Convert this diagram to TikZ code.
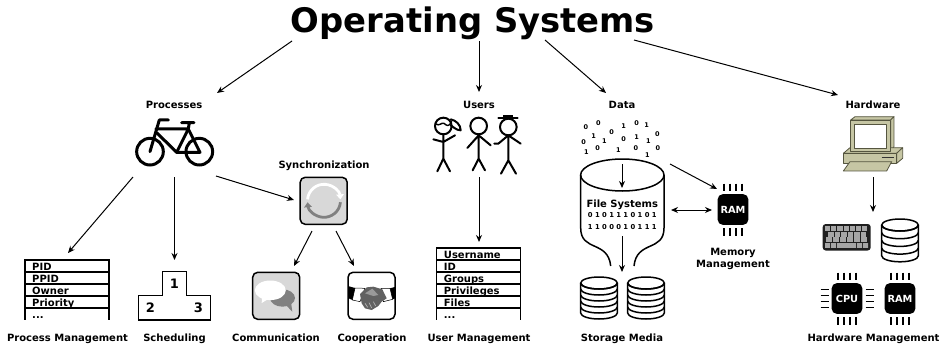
\documentclass[tikz,border=0pt]{standalone}
\usepackage{fontspec}
\setmainfont{DejaVu Sans}
\usetikzlibrary{arrows.meta}
\definecolor{pcfill}{HTML}{C6C6A4}
\definecolor{pcline}{HTML}{55553F}
\definecolor{boxgrey}{HTML}{D8D8D8}
\definecolor{midgrey}{HTML}{808080}
\tikzset{
  x=1pt,y=-1pt,
  lab/.style={font=\fontsize{10}{12}\selectfont\bfseries,inner sep=0pt,align=center,anchor=base},
  conn/.style={line width=1pt,-{Stealth[length=7pt,width=6pt]}},
  connb/.style={line width=1pt,{Stealth[length=7pt,width=6pt]}-{Stealth[length=7pt,width=6pt]}},
  icon/.style={line width=2pt,line cap=round,line join=round},
  tabline/.style={line width=1.5pt},
  tabtext/.style={font=\fontsize{10}{12}\selectfont\bfseries,inner sep=0pt,anchor=base west},
  iconbox/.style={draw,line width=1.5pt,rounded corners=5pt,minimum size=47pt,inner sep=0pt},
  chipbody/.style={fill=black,rounded corners=5pt,minimum size=30.6pt,inner sep=0pt,text=white,font=\fontsize{9.8}{12}\selectfont\bfseries},
  bit/.style={font=\fontsize{6.5}{7}\selectfont\bfseries,inner sep=0pt},
  bitrow/.style={font=\fontsize{6.8}{8}\selectfont\bfseries,inner sep=0pt},
  podnum/.style={font=\fontsize{13}{14}\selectfont\bfseries,inner sep=0pt},
}
\newcommand{\tdots}{.{}.{}.}
\newcommand{\tablepanel}[4]{% x left, x right, y top, rows
  \foreach \rowname [count=\ri from 0] in {#4} {
    \draw[tabline] (#1,#3+12*\ri) -- (#2,#3+12*\ri);
    \node[tabtext] at (#1+7,#3+10+12*\ri) {\rowname};
  }
  \draw[tabline] (#1,#3-.7) -- (#1,320) (#2,#3-.7) -- (#2,320);
}
\newcommand{\diskicon}[6]{% cx, cy, rx, ry, step, count
  \begin{scope}[shift={(#1,#2)}]
    \draw[line width=1.5pt,fill=white] (-#3,0) -- (-#3,#5*#6) arc (180:0:#3 and #4) -- (#3,0);
    \foreach \k in {1,...,#6} {
      \draw[line width=1.5pt] (-#3,#5*\k-#5+0) arc (180:0:#3 and #4);
    }
    \draw[line width=1.5pt] (0,0) ellipse (#3 and #4);
  \end{scope}
}
\newcommand{\chipicon}[4]{% name,x,y,text
  \node[chipbody] (#1) at (#2,#3) {#4};
  \begin{scope}[shift={(#2,#3)}]
    \foreach \p in {-9,-3,3,9} {
      \draw[line width=1.2pt] (\p,-26) -- (\p,-18.5);
      \draw[line width=1.2pt] (\p,18.5) -- (\p,26);
    }
  \end{scope}
}
\begin{document}
\begin{tikzpicture}
\useasboundingbox (0,0) rectangle (940,343);

% ---- title and labels
\node[inner sep=0pt,font=\fontsize{33.8}{36}\selectfont\bfseries] (title) at (473,23) {Operating Systems};
\node[lab] (lProc) at (174,108.7) {Processes};
\node[lab] (lUsers) at (479,108.7) {Users};
\node[lab] (lData) at (622,108.7) {Data};
\node[lab] (lHw) at (873,108.7) {Hardware};
\node[lab] (lSync) at (324,168.5) {Synchronization};
\node[lab] (lPM) at (67.5,341.7) {Process Management};
\node[lab] (lSched) at (174.5,341.7) {Scheduling};
\node[lab] (lComm) at (276,341.7) {Communication};
\node[lab] (lCoop) at (372,341.7) {Cooperation};
\node[lab] (lUM) at (479,341.7) {User Management};
\node[lab] (lSM) at (622,341.7) {Storage Media};
\node[lab,anchor=center] (lMM) at (733,259) {Memory\\[.3pt]Management};
\node[lab] (lHM) at (873.5,341.7) {Hardware Management};

% ---- bicycle
\begin{scope}[shift={(0,90)},x=.3333pt,y=-.3333pt]
  \draw[line width=3pt] (450,185) circle (40);
  \draw[line width=3pt] (598,185) circle (40);
  \draw[icon,line width=3pt] (505,90) -- (478,90) -- (450,185);
  \draw[icon,line width=3pt] (468,117) -- (565,117) -- (530,187) -- (470,128);
  \draw[icon,line width=3pt] (565,117) -- (600,187) -- (530,187);
  \draw[icon,line width=3pt] (545,98) -- (582,98) (568,98) -- (565,117);
\end{scope}

% ---- tables
\tablepanel{25}{109}{260}{PID,PPID,Owner,Priority,\tdots}
\tablepanel{436.7}{520.7}{248}{Username,ID,Groups,Privileges,Files,\tdots}

% ---- podium
\draw[line width=1.5pt] (138.3,320) -- (138.3,295.7) -- (162.7,295.7) -- (162.7,271.7) -- (186.7,271.7) -- (186.7,295.7) -- (210.7,295.7) -- (210.7,320) -- cycle;
\node[podnum] (p1) at (174.5,284) {1};
\node[podnum] (p2) at (150.5,308) {2};
\node[podnum] (p3) at (198.5,308) {3};

% ---- sync box
\node[iconbox,fill=boxgrey] (sync) at (323.7,200.8) {};
\draw[white,line width=2.8pt,-{Triangle[length=5pt,width=7.5pt]}] (324,200.8) ++(185:16.5) arc (185:355:16.5);
\draw[midgrey,line width=2.8pt,-{Triangle[length=5pt,width=7.5pt]}] (324,200.8) ++(5:16.5) arc (5:175:16.5);

% ---- communication box
\node[iconbox,fill=boxgrey] (comm) at (276.2,295.8) {};
\fill[midgrey] (282.5,298) ellipse (12.5 and 8.7);
\fill[midgrey] (284,303) -- (292.3,311.7) -- (291,302) -- cycle;
\fill[white] (270.3,290.3) ellipse (15.5 and 9.8);
\fill[white] (262,296) -- (261.7,303) -- (270,298) -- cycle;

% ---- cooperation box
\node[iconbox,fill=white] (coop) at (371.5,295.8) {};
\begin{scope}[shift={(345,270)},x=.3333pt,y=-.3333pt]
  \filldraw[line width=.5pt,fill=white] (30,54) -- (60,55) -- (45,95) -- (22,90) -- cycle;
  \filldraw[line width=.5pt,fill=white] (135,55) -- (108,55) -- (115,95) -- (143,88) -- cycle;
  \fill[black] (9,48) -- (30,54) -- (22,90) -- (9,84) -- cycle;
  \fill[black] (153,50) -- (135,55) -- (143,88) -- (153,84) -- cycle;
  \fill[black!62] (45,72) -- (65,52) -- (85,50) -- (112,58) -- (125,85) -- (110,95) -- (100,108) -- (80,120) -- (60,115) -- (50,100) -- cycle;
  \fill[black!40] (60,70) -- (82,56) -- (100,75) -- (85,78) -- cycle;
  \draw[black!30,line width=.7pt] (60,100) -- (68,112) (72,98) -- (80,114) (85,95) -- (92,108);
\end{scope}

% ---- people
\begin{scope}[shift={(430,112)},x=.3333pt,y=-.3333pt,icon]
  \draw (40,42) circle (25);
  \draw[line width=1.4pt] (16,35) .. controls (28,45) and (35,30) .. (42,34) .. controls (50,40) and (55,48) .. (65,28);
  \draw (62,22) .. controls (78,25) and (92,38) .. (92,55) .. controls (80,55) and (70,45) .. (62,40);
  \draw (40,67) -- (40,140) (10,82) -- (40,90) -- (75,70) (22,178) -- (40,140) -- (60,178);
  \draw (146,42) circle (25);
  \draw (146,67) -- (146,140) (112,108) -- (146,70) -- (182,100) (128,175) -- (146,140) -- (165,175);
  \draw (235,45) circle (25);
  \draw (205,19) -- (263,19);
  \fill (218,8) rectangle (250,18);
  \draw (235,70) -- (235,145) (193,95) -- (205,95) -- (235,70) -- (272,95) (213,185) -- (235,145) -- (258,185);
\end{scope}

% ---- random bits
\begin{scope}[shift={(576,115)},x=.3333pt,y=-.3333pt]
  \foreach \bx/\by/\bv in {30/35/0,67/23/0,143/32/1,182/25/0,212/30/1,107/52/0,244/56/0,53/63/1,23/80/0,85/77/1,143/73/0,182/67/1,217/77/1,31/112/1,65/100/0,127/106/1,180/100/0,214/121/1,246/100/0}
    \node[bit] at (\bx,\by) {\bv};
\end{scope}

% ---- funnel
\draw[line width=1.5pt] (580.7,175) -- (580.7,228) .. controls (580.7,252) and (608,240) .. (610.7,266);
\draw[line width=1.5pt] (664,175) -- (664,228) .. controls (664,252) and (636.7,240) .. (634,266);
\draw[line width=1.5pt] (622.3,175) ellipse (41.7 and 16);
\node[lab] (fs) at (622.3,207.3) {File Systems};
\node[bitrow] (fs1) at (622.3,215.3) {0 1 0 1 1 1 0 1 0 1};
\node[bitrow] (fs2) at (622.3,227.5) {1 1 0 0 0 1 0 1 1 1};

% ---- disks
\diskicon{599}{283}{18.3}{6}{6}{5}
\diskicon{646}{283}{18.3}{6}{6}{5}
\diskicon{900}{225}{18.3}{6}{7.7}{4}

% ---- chips
\chipicon{ramA}{733}{209.5}{RAM}
\chipicon{cpu}{847}{298.5}{CPU}
\chipicon{ramB}{900}{298.5}{RAM}
\begin{scope}[shift={(847,298.5)}]
  \foreach \p in {-9,-3,3,9} {
    \draw[line width=1.2pt] (-26.5,\p) -- (-18.5,\p);
    \draw[line width=1.2pt] (18.5,\p) -- (26.5,\p);
  }
\end{scope}

% ---- keyboard
\fill[black!88,rounded corners=3pt] (822.7,224) rectangle (870.7,250.5);
\begin{scope}[shift={(825,226)}]
  \foreach \kx in {0,...,6} \fill[black!35] (6.2*\kx,0) rectangle +(5.2,4.8);
  \foreach \kx in {0,...,5} \fill[black!35] (3+6.5*\kx,5.7) rectangle +(5.5,4.8);
  \foreach \kx in {0,...,5} \fill[black!35] (1+7*\kx,11.4) rectangle +(6,4.8);
  \fill[black!35] (0,17) rectangle +(5,4.8) (6,17) rectangle +(5,4.8) (12,17) rectangle +(19,4.8) (32,17) rectangle +(5,4.8) (38,17) rectangle +(5,4.8);
\end{scope}

% ---- computer
\begin{scope}[shift={(790,95)},x=.3333pt,y=-.3333pt,draw=pcline,fill=pcfill,line width=.8pt,line join=round]
  \filldraw (182,75) -- (195,65) -- (312,65) -- (302,75) -- cycle;
  \filldraw (302,75) -- (312,65) -- (312,155) -- (302,170) -- cycle;
  \filldraw (160,175) -- (180,158) -- (338,158) -- (320,175) -- cycle;
  \filldraw (320,175) -- (338,158) -- (338,190) -- (320,205) -- cycle;
  \filldraw (160,175) rectangle (320,205);
  \filldraw (182,75) rectangle (302,170);
  \filldraw[fill=white] (193,88) rectangle (290,160);
  \draw[line width=1.2pt,black!80] (275,188) -- (312,188);
  \filldraw (160,228) -- (180,200) -- (305,200) -- (290,228) -- cycle;
\end{scope}

% ---- connector ends
\coordinate (tL) at (292,41);
\coordinate (tU) at (479,41);
\coordinate (tD) at (545,40);
\coordinate (tH) at (634,40);
\coordinate (procN) at (217,93);
\coordinate (usersN) at (479,92);
\coordinate (dataN) at (606,93);
\coordinate (hwN) at (838,95);
\coordinate (bikeL) at (133,177);
\coordinate (bikeS) at (174.5,177);
\coordinate (bikeR) at (216,176);
\coordinate (pmN) at (68,253);
\coordinate (schedN) at (174.5,260);
\coordinate (syncW) at (294,200);
\coordinate (syncSL) at (312,231);
\coordinate (syncSR) at (336,231);
\coordinate (commN) at (294,266);
\coordinate (coopN) at (354,266);
\coordinate (peopleS) at (479,177);
\coordinate (umN) at (479,242);
\coordinate (funTop) at (622,164);
\coordinate (funMid) at (622,188);
\coordinate (fsS) at (622,236);
\coordinate (smN) at (622,272);
\coordinate (fsTR) at (670,164);
\coordinate (ramNW) at (717,189);
\coordinate (fsE) at (671,210);
\coordinate (ramW) at (712,210);
\coordinate (pcS) at (873,177);
\coordinate (hwDev) at (873,212);

% ---- connectors
\draw[conn] (tL) -- (procN);
\draw[conn] (tU) -- (usersN);
\draw[conn] (tD) -- (dataN);
\draw[conn] (tH) -- (hwN);
\draw[conn] (bikeL) -- (pmN);
\draw[conn] (bikeS) -- (schedN);
\draw[conn] (bikeR) -- (syncW);
\draw[conn] (syncSL) -- (commN);
\draw[conn] (syncSR) -- (coopN);
\draw[conn] (peopleS) -- (umN);
\draw[conn] (funTop) -- (funMid);
\draw[conn] (fsS) -- (smN);
\draw[conn] (fsTR) -- (ramNW);
\draw[connb] (fsE) -- (ramW);
\draw[conn] (pcS) -- (hwDev);
\end{tikzpicture}
\end{document}
